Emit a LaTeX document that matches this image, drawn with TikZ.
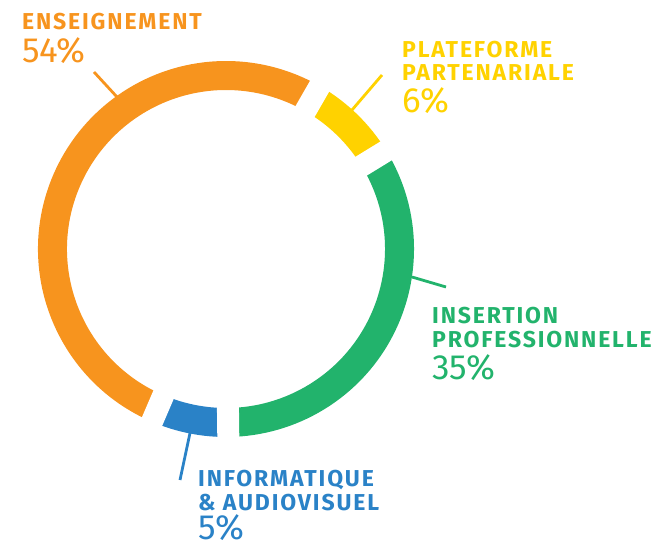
\documentclass[tikz,border=0pt]{standalone}
\usepackage{fontspec}
\setmainfont{Fira Sans}
\newfontfamily\labfont[LetterSpace=8]{Fira Sans}
\usetikzlibrary{positioning}

\definecolor{ensorange}{RGB}{247,148,30}
\definecolor{plateyellow}{RGB}{255,210,0}
\definecolor{insgreen}{RGB}{34,179,108}
\definecolor{infoblue}{RGB}{42,130,199}

\begin{document}
\begin{tikzpicture}[x=1pt, y=1pt,
	ring/.style={line width=29pt},
	gapline/.style={white, line width=22pt},
	leader/.style={line width=2.8pt},
	lbl/.style={anchor=base west, inner sep=0pt, align=left,
		font=\labfont\bfseries\fontsize{23}{23.5}\selectfont},
	pct/.style={anchor=base west, inner sep=0pt,
		font=\fontsize{35}{35}\selectfont}]
	
	\useasboundingbox (0,0) rectangle (656,547);
	\coordinate (c) at (226,298);
	
	% Draw the ring segments
	\foreach \a/\b/\col in {270.7/246.8/infoblue, 246.8/60.1/ensorange, 60.1/31.5/plateyellow, 31.5/-89.3/insgreen}
	\draw[ring, \col] (c) ++(\a:173.5) arc[start angle=\a, end angle=\b, radius=173.5];
	
	% Cut the gaps between the segments
	\foreach \a in {270.7, 246.8, 60.1, 31.5}
	\draw[gapline] (c) ++(\a:150) -- ++(\a:50);
	
	% Leader lines
	\coordinate (ens-a) at (117,450);
	\coordinate (ens-b) at (94,475);
	\coordinate (plat-a) at (352,437);
	\coordinate (plat-b) at (382,472);
	\coordinate (ins-a) at (412,270);
	\coordinate (ins-b) at (446,260);
	\coordinate (info-a) at (190,114);
	\coordinate (info-b) at (180,67);
	\draw[leader, ensorange] (ens-a) -- (ens-b);
	\draw[leader, plateyellow] (plat-a) -- (plat-b);
	\draw[leader, insgreen] (ins-a) -- (ins-b);
	\draw[leader, infoblue] (info-a) -- (info-b);
	
	% Labels and percentages (base = last line)
	\node[lbl, ensorange] (ens) at (22,517) {ENSEIGNEMENT};
	\node[pct, ensorange] (ens-p) at (22,484) {54\%};
	\node[lbl, plateyellow] (plat) at (402,466) {PLATEFORME\\PARTENARIALE};
	\node[pct, plateyellow] (plat-p) at (402,434) {6\%};
	\node[lbl, insgreen] (ins) at (432,200) {INSERTION\\PROFESSIONNELLE};
	\node[pct, insgreen] (ins-p) at (432,168) {35\%};
	\node[lbl, infoblue] (info) at (198,37) {INFORMATIQUE\\\& AUDIOVISUEL};
	\node[pct, infoblue] (info-p) at (198,8) {5\%};
	
\end{tikzpicture}
\end{document}
